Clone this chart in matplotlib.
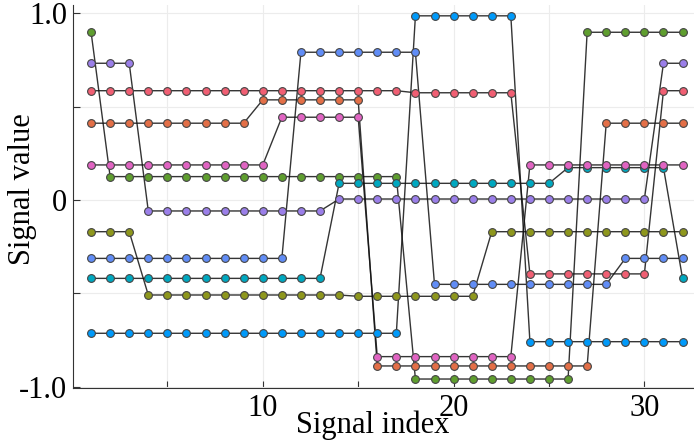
import matplotlib
matplotlib.use("Agg")
import matplotlib.pyplot as plt
import numpy as np

plt.rcParams.update({
    "font.family": ["Liberation Serif", "DejaVu Serif"],
    "font.size": 22,
})

# signal index
idx = np.arange(1, 33)

# one list of values per signal
sig_blue = [-0.714] * 17 + [0.986] * 6 + [-0.759] * 9
sig_orange = [0.411] * 9 + [0.536] * 6 + [-0.889] * 12 + [0.411] * 5
sig_green = [0.900] + [0.125] * 16 + [-0.959] * 9 + [0.898] * 6
sig_purple = [0.732] * 3 + [-0.059] * 10 + [0.005] * 17 + [0.732] * 2
sig_olive = [-0.170] * 3 + [-0.509] * 11 + [-0.516] * 7 + [-0.170] * 11
sig_teal = [-0.420] * 13 + [0.089] * 12 + [0.173] * 6 + [-0.420]
sig_pink = [0.1875] * 10 + [0.443] * 5 + [-0.839] * 8 + [0.1875] * 9
sig_red = [0.585] * 17 + [0.574] * 6 + [-0.396] * 7 + [0.585] * 2
sig_cblue = [-0.313] * 11 + [0.791] * 7 + [-0.452] * 10 + [-0.313] * 4

series = [
    (sig_blue, "#009AFA"),
    (sig_orange, "#E36F47"),
    (sig_green, "#5F9E2F"),
    (sig_purple, "#9B7FE9"),
    (sig_olive, "#8E971D"),
    (sig_teal, "#00A8C0"),
    (sig_red, "#F05F73"),
    (sig_pink, "#E064C2"),
    (sig_cblue, "#618DF6"),
]

fig = plt.figure(figsize=(6.94, 4.46), dpi=100)
ax = fig.add_axes([0.1048, 0.1294, 0.8952, 0.8594])

for vals, col in series:
    ax.plot(idx, vals, color="#111111", linewidth=1.0, alpha=0.85, zorder=2)
    ax.plot(idx, vals, linestyle="none", marker="o", markersize=5.6,
            markerfacecolor=col, markeredgecolor="#444444",
            markeredgewidth=0.8, zorder=3)

ax.set_xlim(0.04, 32.6)
ax.set_ylim(-1.0086, 1.044)

ax.set_xticks([5, 10, 15, 20, 25, 30])
ax.set_xticklabels(["", "10", "", "20", "", "30"])
ax.set_yticks([-1.0, -0.5, 0, 0.5, 1.0])
ax.set_yticklabels(["-1.0", "", "0", "", "1.0"])
ax.tick_params(direction="in", length=5, width=0.8, color="#333333", pad=4)

ax.grid(True, color="#ececec", linewidth=0.8, zorder=0)
ax.set_axisbelow(True)
for side in ["top", "right"]:
    ax.spines[side].set_visible(False)
for side in ["left", "bottom"]:
    ax.spines[side].set_color("#333333")
    ax.spines[side].set_linewidth(0.8)

ax.set_xlabel("Signal index")
ax.set_ylabel("Signal value")
ax.xaxis.set_label_coords(0.483, -0.058)
ax.yaxis.set_label_coords(-0.057, 0.52)

fig.savefig("out.png", dpi=100)
